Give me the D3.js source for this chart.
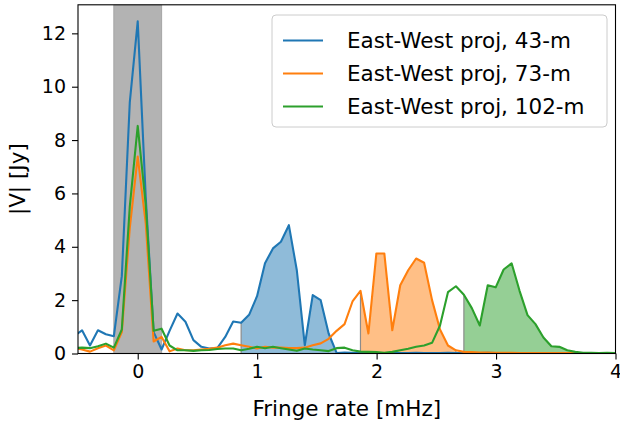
<!DOCTYPE html>
<html>
<head>
<meta charset="utf-8">
<script src="https://cdn.jsdelivr.net/npm/d3@7"></script>
<style>
  html, body { margin: 0; padding: 0; background: #fff; }
  text { font-family: "DejaVu Sans", sans-serif; fill: #000; }
</style>
</head>
<body>
<svg id="chart" width="620" height="421"></svg>
<script>
// ---- data ----
// fringe-rate sample grid (mHz): index i -> FR_START + i * FR_STEP
const FR_START = -9 * 0.0666;
const FR_STEP = 0.0666;

const seriesNames = ["East-West proj, 43-m", "East-West proj, 73-m", "East-West proj, 102-m"];
const seriesColors = ["#1f77b4", "#ff7f0e", "#2ca02c"];

const v43 = [0.5, 0.65, 0.87, 0.3, 0.87, 0.72, 0.65, 2.9, 9.4, 12.45,
  5.9, 0.8, 0.15, 0.85, 1.5, 1.19, 0.5, 0.25, 0.19, 0.2,
  0.62, 1.2, 1.15, 1.45, 2.15, 3.38, 3.94, 4.19, 4.81, 3.12,
  0.31, 2.19, 2.0, 0.75, 0.02,
  0.04, 0.03, 0.02, 0.03, 0.02, 0.02, 0.03, 0.02, 0.02, 0.03,
  0.02, 0.02, 0.02, 0.03, 0.02, 0.02, 0.02, 0.02, 0.03, 0.02,
  0.02, 0.02, 0.02, 0.02, 0.02, 0.02, 0.02, 0.02, 0.02, 0.02,
  0.02, 0.02, 0.02, 0.02, 0.02, 0.02];

const v73 = [0.2, 0.22, 0.15, 0.07, 0.2, 0.3, 0.12, 0.8, 4.7, 7.38,
  4.9, 0.45, 0.62, 0.08, 0.19, 0.12, 0.12, 0.15, 0.18, 0.22,
  0.31, 0.37, 0.31, 0.25, 0.19, 0.25, 0.22, 0.22, 0.2, 0.2,
  0.22, 0.31, 0.38, 0.55, 0.85, 1.1, 1.95, 2.35, 0.75, 3.75,
  3.75, 0.87, 2.56, 3.12, 3.56, 3.4, 2.0, 0.9, 0.3, 0.12,
  0.06,
  0.05, 0.04, 0.04, 0.03, 0.03, 0.03, 0.02, 0.02, 0.02, 0.02,
  0.02, 0.02, 0.02, 0.02, 0.02, 0.02, 0.02, 0.02, 0.02, 0.02];

const v102 = [0.2, 0.2, 0.22, 0.2, 0.27, 0.37, 0.22, 0.9, 5.5, 8.53,
  5.6, 0.85, 0.93, 0.3, 0.12, 0.12, 0.1, 0.12, 0.13, 0.17,
  0.19, 0.19, 0.12, 0.18, 0.25, 0.2, 0.25, 0.2, 0.15, 0.1,
  0.19, 0.15, 0.12, 0.09, 0.2, 0.22, 0.12, 0.07, 0.06, 0.05,
  0.03, 0.06, 0.12, 0.18, 0.25, 0.3, 0.4, 1.05, 2.3, 2.52,
  2.2, 1.7, 1.05, 2.56, 2.48, 3.15, 3.38, 2.35, 1.44, 1.1,
  0.6, 0.27, 0.25, 0.12, 0.06,
  0.03, 0.03, 0.02, 0.03, 0.02, 0.02];

// shaded fringe-rate windows (mHz) for each baseline
const fillRanges = [[0.866, 1.665], [1.865, 2.664], [2.731, 3.730]];
// excluded (zero fringe-rate) band
const zeroBand = [-0.2, 0.2];

const xTicks = [0, 1, 2, 3, 4];
const yTicks = [0, 2, 4, 6, 8, 10, 12];
const xDomain = [-0.5, 4];
const yDomain = [0, 13.07];

// ---- layout ----
const svg = d3.select("#chart");
const L = 78, R = 615.5, T = 4.8, B = 353.5;

const x = d3.scaleLinear().domain(xDomain).range([L, R]);
const y = d3.scaleLinear().domain(yDomain).range([B, T]);

svg.append("defs").append("clipPath").attr("id", "plotclip")
  .append("rect").attr("x", L).attr("y", T).attr("width", R - L).attr("height", B - T);

const plot = svg.append("g").attr("clip-path", "url(#plotclip)");

// zero band
plot.append("rect")
  .attr("x", x(zeroBand[0])).attr("y", T)
  .attr("width", x(zeroBand[1]) - x(zeroBand[0])).attr("height", B - T)
  .attr("fill", "#b3b3b3").attr("stroke", "#a6a6a6").attr("stroke-width", 1);

const allSeries = [v43, v73, v102].map(vals =>
  vals.map((v, i) => ({ f: FR_START + i * FR_STEP, v })));

// fills
allSeries.forEach((pts, si) => {
  const [lo, hi] = fillRanges[si];
  const sub = pts.filter(p => p.f >= lo - 0.01 && p.f <= hi + 0.01);
  const area = d3.area().x(p => x(p.f)).y0(y(0)).y1(p => y(p.v));
  plot.append("path").datum(sub).attr("d", area)
    .attr("fill", seriesColors[si]).attr("fill-opacity", 0.5).attr("stroke", "none");
  [sub[0], sub[sub.length - 1]].forEach(p => {
    plot.append("line")
      .attr("x1", x(p.f)).attr("x2", x(p.f))
      .attr("y1", y(0)).attr("y2", y(p.v))
      .attr("stroke", "#8c8c8c").attr("stroke-width", 1.2);
  });
});

// lines
const line = d3.line().x(p => x(p.f)).y(p => y(p.v));
allSeries.forEach((pts, si) => {
  plot.append("path").datum(pts).attr("d", line)
    .attr("fill", "none").attr("stroke", seriesColors[si])
    .attr("stroke-width", 2.1).attr("stroke-linejoin", "round").attr("stroke-linecap", "butt");
});

// frame
svg.append("rect").attr("x", L).attr("y", T).attr("width", R - L).attr("height", B - T)
  .attr("fill", "none").attr("stroke", "#000").attr("stroke-width", 1.1);

// axes
const xAxis = svg.append("g").attr("transform", `translate(0,${B})`)
  .call(d3.axisBottom(x).tickValues(xTicks).tickFormat(d3.format("d")).tickSize(6).tickSizeOuter(0).tickPadding(5));
const yAxis = svg.append("g").attr("transform", `translate(${L},0)`)
  .call(d3.axisLeft(y).tickValues(yTicks).tickFormat(d3.format("d")).tickSize(6).tickSizeOuter(0).tickPadding(6));
[xAxis, yAxis].forEach(a => {
  a.select(".domain").remove();
  a.selectAll(".tick line").attr("stroke", "#000").attr("stroke-width", 1.1);
  a.selectAll(".tick text").attr("font-size", 19).attr("font-family", "DejaVu Sans").attr("fill", "#222");
});

// axis labels
svg.append("text").attr("x", (L + R) / 2).attr("y", 408)
  .attr("text-anchor", "middle").attr("dominant-baseline", "central")
  .attr("font-size", 21.5).attr("fill", "#222").text("Fringe rate [mHz]");
svg.append("text").attr("transform", `translate(17,${(T + B) / 2}) rotate(-90)`)
  .attr("text-anchor", "middle").attr("dominant-baseline", "central")
  .attr("font-size", 21.5).attr("fill", "#222").text("|V| [Jy]");

// legend
const lg = svg.append("g");
lg.append("rect").attr("x", 272).attr("y", 15).attr("width", 335).attr("height", 112)
  .attr("rx", 4).attr("fill", "#fff").attr("fill-opacity", 0.8)
  .attr("stroke", "#cccccc").attr("stroke-width", 1);
seriesNames.forEach((name, i) => {
  const cy = 40.5 + i * 33;
  lg.append("line").attr("x1", 283).attr("x2", 323).attr("y1", cy).attr("y2", cy)
    .attr("stroke", seriesColors[i]).attr("stroke-width", 2.1);
  lg.append("text").attr("x", 347).attr("y", cy).attr("dominant-baseline", "central")
    .attr("font-size", 21.5).attr("fill", "#222").text(name);
});
</script>
</body>
</html>
